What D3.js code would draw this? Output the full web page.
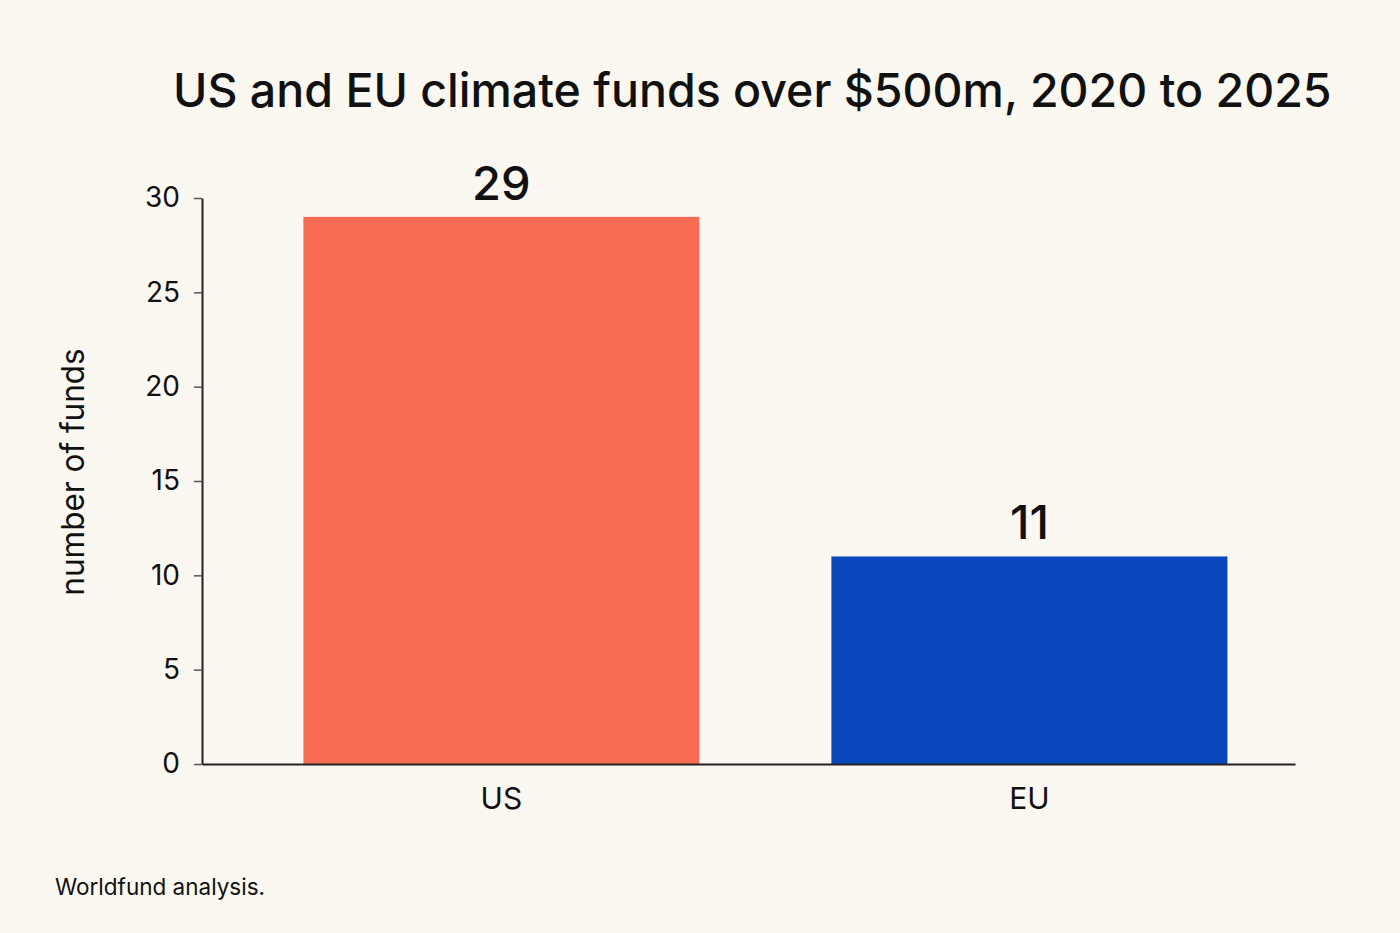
<!DOCTYPE html>
<html>
<head>
<meta charset="utf-8">
<script src="https://cdn.jsdelivr.net/npm/d3@7"></script>
<style>
  html, body { margin: 0; padding: 0; background: #fbf7f1; }
  svg { display: block; font-family: Inter, "Noto Sans", sans-serif; }
</style>
</head>
<body>
<div id="chart"></div>
<script>
'use strict';

const categories = ['US', 'EU'];
const funds = [29, 11];
const yTicks = [0, 5, 10, 15, 20, 25, 30];
const barColors = ['#f76c53', '#0a47bd'];

const width = 1400;
const height = 933;
const margin = {top: 198, right: 105, bottom: 169, left: 202};

const svg = d3.select('#chart')
  .append('svg')
    .attr('width', width)
    .attr('height', height);

svg.append('rect')
  .attr('width', width)
  .attr('height', height)
  .attr('fill', '#fbf7f1');

const x = d3.scaleBand()
  .domain(categories)
  .range([margin.left, width - margin.right])
  .paddingInner(0.25)
  .paddingOuter(0.16)
  .align(0.6);

const y = d3.scaleLinear()
  .domain([0, 30])
  .range([height - margin.bottom, margin.top]);

// title
svg.append('text')
  .attr('x', 173)
  .attr('y', 107)
  .attr('font-size', 46.5)
  .attr('font-weight', 500)
  .attr('fill', '#111')
  .text('US and EU climate funds over $500m, 2020 to 2025');

// bars
svg.append('g')
  .selectAll('rect')
  .data(categories)
  .enter()
    .append('rect')
      .attr('x', d => x(d))
      .attr('y', (d, i) => y(funds[i]))
      .attr('width', x.bandwidth())
      .attr('height', (d, i) => y(0) - y(funds[i]))
      .attr('fill', (d, i) => barColors[i]);

// value labels
svg.append('g')
  .selectAll('text')
  .data(categories)
  .enter()
    .append('text')
      .attr('x', d => x(d) + x.bandwidth() / 2)
      .attr('y', (d, i) => y(funds[i]) - 17)
      .attr('text-anchor', 'middle')
      .attr('font-size', 47)
      .attr('font-weight', 500)
      .attr('fill', '#111')
      .text((d, i) => funds[i]);

// y axis
const yAxis = svg.append('g')
  .attr('transform', `translate(${margin.left},0)`)
  .call(d3.axisLeft(y).tickValues(yTicks).tickSize(8).tickPadding(14).tickSizeOuter(0));

yAxis.select('.domain').attr('stroke', '#222').attr('stroke-width', 2);
yAxis.selectAll('.tick line').attr('stroke', '#555').attr('stroke-width', 1.5);
yAxis.selectAll('.tick text')
  .attr('font-family', 'Inter, "Noto Sans", sans-serif')
  .attr('font-size', 28)
  .attr('fill', '#111');

// x axis
const xAxis = svg.append('g')
  .attr('transform', `translate(0,${height - margin.bottom})`)
  .call(d3.axisBottom(x).tickSize(0).tickPadding(24).tickSizeOuter(0));

xAxis.select('.domain').attr('stroke', '#222').attr('stroke-width', 2);
xAxis.selectAll('.tick text')
  .attr('font-family', 'Inter, "Noto Sans", sans-serif')
  .attr('font-size', 30)
  .attr('fill', '#111');

// y axis title
svg.append('text')
  .attr('transform', 'translate(84,472) rotate(-90)')
  .attr('text-anchor', 'middle')
  .attr('font-size', 31.5)
  .attr('fill', '#111')
  .text('number of funds');

// source
svg.append('text')
  .attr('x', 55)
  .attr('y', 895)
  .attr('font-size', 22.5)
  .attr('fill', '#111')
  .text('Worldfund analysis.');
</script>
</body>
</html>
